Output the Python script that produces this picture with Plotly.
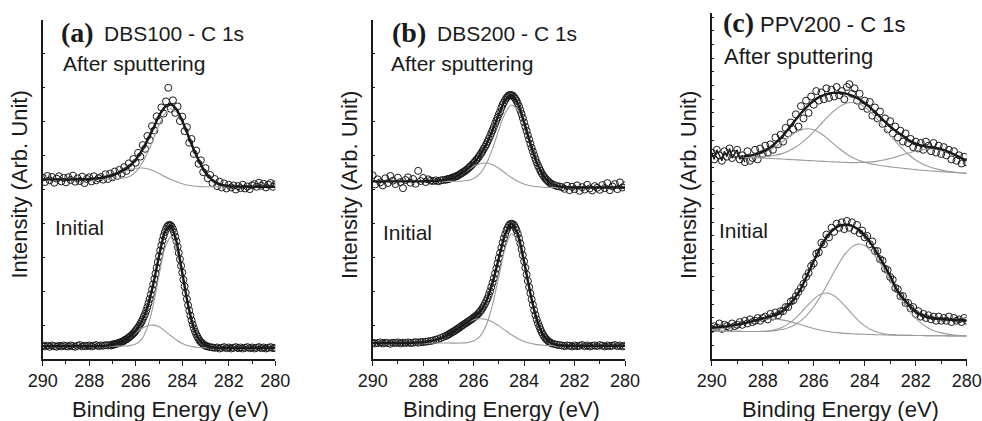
import numpy as np
import plotly.graph_objects as go

W, H = 982, 421

# ---------------- energy grids (eV) ----------------
E_FINE = np.round(np.linspace(290.0, 280.0, 101), 2)
E_DENSE = np.round(np.concatenate([np.linspace(290.0, 287.2, 29),
                                   np.linspace(287.1, 282.9, 85),
                                   np.linspace(282.8, 280.0, 29)]), 2)
E_FIT = np.round(np.linspace(290.0, 280.0, 41), 2)
E_FIT_C_AFTER = np.round(np.linspace(288.75, 280.0, 36), 2)

# ---------------- panel (a) DBS100 ----------------
a_after_pts = [5.35, 5.22, 5.40, 5.27, 5.37, 5.20, 5.32, 5.39, 5.24, 5.34,
               5.21, 5.36, 5.28, 5.41, 5.23, 5.33, 5.25, 5.38, 5.19, 5.31,
               5.36, 5.24, 5.39, 5.27, 5.33, 5.37,
               5.29, 5.45, 5.31, 5.47, 5.36, 5.53, 5.40, 5.58, 5.47, 5.66,
               5.55, 5.77, 5.65, 5.90, 5.79, 6.08, 5.97, 6.31, 6.20, 6.58,
               6.46, 6.87, 6.74, 7.16, 7.03, 7.42, 7.24, 7.60, 8.00, 7.38,
               7.63, 7.26, 7.45, 7.02, 7.15, 6.72, 6.84, 6.38, 6.49, 6.05,
               6.15, 5.76, 5.86, 5.51, 5.63, 5.33, 5.43, 5.19, 5.31, 5.10,
               5.23, 5.06, 5.18, 5.03, 5.14,
               5.06, 5.12, 5.00, 5.10, 5.04, 5.14, 5.03, 5.09, 5.01, 5.12,
               5.16, 5.08, 5.20, 5.11, 5.17, 5.06, 5.14, 5.19, 5.08, 5.15]
a_after_fit = [5.30, 5.30, 5.30, 5.30, 5.30, 5.30, 5.302, 5.304, 5.31, 5.321,
               5.341, 5.375, 5.42, 5.49, 5.58, 5.70, 5.88, 6.13, 6.45, 6.80,
               7.17, 7.43, 7.52, 7.37, 7.03, 6.60, 6.17, 5.80, 5.50, 5.30,
               5.19, 5.13, 5.10, 5.09, 5.085, 5.08, 5.08, 5.08, 5.08, 5.08, 5.08]
a_after_main = [5.30, 5.30, 5.30, 5.30, 5.30, 5.30, 5.30, 5.30, 5.30, 5.30,
                5.30, 5.30, 5.30, 5.31, 5.34, 5.39, 5.52, 5.75, 6.08, 6.47,
                6.90, 7.23, 7.38, 7.28, 6.98, 6.57, 6.16, 5.79, 5.50, 5.30,
                5.19, 5.13, 5.10, 5.09, 5.085, 5.08, 5.08, 5.08, 5.08, 5.08, 5.08]
a_after_minor = [5.30, 5.30, 5.30, 5.30, 5.30, 5.30, 5.302, 5.304, 5.31, 5.321,
                 5.34, 5.372, 5.418, 5.477, 5.534, 5.588, 5.627, 5.634, 5.61, 5.55,
                 5.471, 5.383, 5.30, 5.229, 5.171, 5.127, 5.103, 5.086, 5.082, 5.08,
                 5.08, 5.08, 5.08, 5.08, 5.08, 5.08, 5.08, 5.08, 5.08, 5.08, 5.08]

a_init_pts = [0.40, 0.37, 0.39, 0.36, 0.40, 0.38, 0.36, 0.39, 0.37, 0.40,
              0.38, 0.37, 0.40, 0.38, 0.36, 0.39, 0.41, 0.37, 0.39, 0.38,
              0.40, 0.37, 0.39, 0.41, 0.38, 0.40, 0.39, 0.41, 0.40,
              0.41, 0.40, 0.43, 0.42, 0.44, 0.45, 0.45, 0.47, 0.48, 0.49,
              0.51, 0.52, 0.54, 0.57, 0.58, 0.61, 0.63, 0.66, 0.69, 0.72,
              0.76, 0.79, 0.84, 0.88, 0.93, 0.98, 1.04, 1.10, 1.17, 1.25,
              1.33, 1.43, 1.53, 1.65, 1.77, 1.90, 2.05, 2.20, 2.36, 2.52,
              2.69, 2.86, 3.03, 3.20, 3.35, 3.50, 3.63, 3.74, 3.83, 3.90,
              3.94, 3.96, 3.94, 3.90, 3.83, 3.73, 3.61, 3.47, 3.31, 3.13,
              2.94, 2.75, 2.55, 2.34, 2.14, 1.95, 1.77, 1.59, 1.43, 1.28,
              1.14, 1.02, 0.91, 0.81, 0.73, 0.66, 0.60, 0.54, 0.50, 0.47,
              0.44, 0.41, 0.39, 0.38, 0.37,
              0.35, 0.34, 0.33, 0.34, 0.31, 0.33, 0.35, 0.32, 0.34, 0.31,
              0.33, 0.35, 0.32, 0.34, 0.31, 0.33, 0.35, 0.32, 0.34, 0.31,
              0.33, 0.35, 0.32, 0.34, 0.31, 0.33, 0.35, 0.32, 0.33]
a_init_fit = [0.38, 0.38, 0.38, 0.38, 0.38, 0.38, 0.38, 0.38, 0.381, 0.382,
              0.386, 0.396, 0.419, 0.464, 0.541, 0.659, 0.834, 1.10, 1.532, 2.198,
              3.034, 3.74, 3.941, 3.468, 2.546, 1.591, 0.909, 0.544, 0.394, 0.346,
              0.333, 0.33, 0.33, 0.33, 0.33, 0.33, 0.33, 0.33, 0.33, 0.33, 0.33]
a_init_main = [0.38, 0.38, 0.38, 0.38, 0.38, 0.38, 0.38, 0.38, 0.38, 0.38,
               0.38, 0.38, 0.38, 0.38, 0.383, 0.394, 0.44, 0.581, 0.926, 1.57,
               2.456, 3.269, 3.60, 3.249, 2.421, 1.528, 0.881, 0.533, 0.39, 0.344,
               0.333, 0.33, 0.33, 0.33, 0.33, 0.33, 0.33, 0.33, 0.33, 0.33, 0.33]
a_init_minor = [0.38, 0.38, 0.38, 0.38, 0.38, 0.38, 0.38, 0.38, 0.38, 0.382,
                0.386, 0.396, 0.419, 0.464, 0.538, 0.645, 0.774, 0.897, 0.981, 1.0,
                0.948, 0.831, 0.691, 0.559, 0.46, 0.393, 0.358, 0.341, 0.334, 0.332,
                0.33, 0.33, 0.33, 0.33, 0.33, 0.33, 0.33, 0.33, 0.33, 0.33, 0.33]

# ---------------- panel (b) DBS200 ----------------
b_after_pts = [5.42, 5.15, 5.30, 5.21, 5.12, 5.33, 5.19, 5.40, 5.26, 5.16,
               5.35, 5.22, 5.04, 5.28, 5.36, 5.20, 5.31, 5.17, 5.55, 5.25,
               5.34, 5.22, 5.30, 5.26, 5.25, 5.27, 5.24, 5.27, 5.28,
               5.29, 5.30, 5.31, 5.32, 5.33, 5.34, 5.36, 5.37, 5.39, 5.40,
               5.42, 5.45, 5.47, 5.49, 5.52, 5.54, 5.57, 5.60, 5.63, 5.67,
               5.70, 5.74, 5.78, 5.82, 5.87, 5.91, 5.96, 6.02, 6.07, 6.13,
               6.20, 6.26, 6.33, 6.41, 6.49, 6.57, 6.66, 6.75, 6.84, 6.94,
               7.03, 7.12, 7.22, 7.30, 7.41, 7.50, 7.57, 7.64, 7.70, 7.74,
               7.78, 7.79, 7.78, 7.77, 7.73, 7.68, 7.62, 7.54, 7.45, 7.34,
               7.23, 7.11, 6.98, 6.85, 6.73, 6.60, 6.48, 6.35, 6.23, 6.12,
               6.01, 5.90, 5.80, 5.71, 5.63, 5.55, 5.48, 5.42, 5.37, 5.32,
               5.28, 5.24, 5.21, 5.18, 5.16,
               5.13, 5.10, 5.09, 5.07, 5.02, 5.11, 4.98, 5.08, 5.01, 5.12,
               4.96, 5.07, 5.00, 5.14, 5.03, 4.97, 5.10, 5.05, 4.99, 5.13,
               5.04, 5.19, 4.98, 5.09, 5.16, 5.01, 5.21, 5.06, 5.12]
b_after_fit = [5.24, 5.24, 5.24, 5.24, 5.24, 5.24, 5.24, 5.24, 5.241, 5.245,
               5.252, 5.271, 5.307, 5.369, 5.466, 5.601, 5.782, 6.016, 6.334, 6.75,
               7.217, 7.64, 7.78, 7.54, 6.977, 6.353, 5.803, 5.42, 5.21, 5.112,
               5.076, 5.064, 5.061, 5.06, 5.06, 5.06, 5.06, 5.06, 5.06, 5.06, 5.06]
b_after_main = [5.24, 5.24, 5.24, 5.24, 5.24, 5.24, 5.24, 5.24, 5.24, 5.24,
                5.24, 5.24, 5.24, 5.242, 5.244, 5.263, 5.325, 5.47, 5.754, 6.204,
                6.76, 7.255, 7.492, 7.358, 6.91, 6.322, 5.791, 5.415, 5.208, 5.112,
                5.076, 5.064, 5.06, 5.06, 5.06, 5.06, 5.06, 5.06, 5.06, 5.06, 5.06]
b_after_minor = [5.24, 5.24, 5.24, 5.24, 5.24, 5.24, 5.24, 5.24, 5.241, 5.245,
                 5.252, 5.271, 5.307, 5.37, 5.457, 5.568, 5.681, 5.761, 5.78, 5.731,
                 5.626, 5.488, 5.352, 5.24, 5.162, 5.111, 5.082, 5.065, 5.061, 5.06,
                 5.06, 5.06, 5.06, 5.06, 5.06, 5.06, 5.06, 5.06, 5.06, 5.06, 5.06]

b_init_pts = [0.48, 0.46, 0.47, 0.49, 0.46, 0.48, 0.47, 0.45, 0.48, 0.47,
              0.49, 0.46, 0.48, 0.47, 0.49, 0.47, 0.48, 0.50, 0.48, 0.50,
              0.50, 0.51, 0.52, 0.53, 0.55, 0.57, 0.59, 0.62, 0.65,
              0.68, 0.70, 0.72, 0.74, 0.77, 0.79, 0.81, 0.83, 0.86, 0.88,
              0.91, 0.93, 0.96, 0.99, 1.01, 1.04, 1.06, 1.09, 1.11, 1.14,
              1.16, 1.19, 1.22, 1.25, 1.28, 1.31, 1.35, 1.40, 1.44, 1.50,
              1.56, 1.63, 1.71, 1.79, 1.89, 2.00, 2.12, 2.25, 2.38, 2.52,
              2.67, 2.82, 2.98, 3.13, 3.28, 3.43, 3.56, 3.68, 3.79, 3.87,
              3.94, 3.98, 3.99, 3.98, 3.95, 3.88, 3.80, 3.69, 3.56, 3.41,
              3.24, 3.06, 2.88, 2.69, 2.49, 2.30, 2.12, 1.94, 1.76, 1.60,
              1.44, 1.30, 1.17, 1.06, 0.96, 0.87, 0.79, 0.72, 0.66, 0.61,
              0.57, 0.53, 0.50, 0.48, 0.46,
              0.44, 0.42, 0.41, 0.40, 0.38, 0.40, 0.39, 0.37, 0.40, 0.38,
              0.39, 0.41, 0.38, 0.40, 0.37, 0.39, 0.40, 0.38, 0.41, 0.39,
              0.37, 0.40, 0.38, 0.39, 0.41, 0.38, 0.40, 0.37, 0.39]
b_init_fit = [0.47, 0.47, 0.47, 0.47, 0.471, 0.472, 0.475, 0.482, 0.496, 0.522,
              0.565, 0.631, 0.722, 0.834, 0.959, 1.087, 1.219, 1.395, 1.706, 2.245,
              2.977, 3.683, 3.992, 3.686, 2.879, 1.935, 1.174, 0.717, 0.501, 0.422,
              0.398, 0.391, 0.39, 0.39, 0.39, 0.39, 0.39, 0.39, 0.39, 0.39, 0.39]
b_init_main = [0.47, 0.47, 0.47, 0.47, 0.47, 0.47, 0.47, 0.47, 0.47, 0.47,
               0.47, 0.47, 0.47, 0.469, 0.471, 0.483, 0.529, 0.666, 0.994, 1.602,
               2.441, 3.269, 3.697, 3.491, 2.76, 1.868, 1.139, 0.70, 0.494, 0.419,
               0.397, 0.391, 0.39, 0.39, 0.39, 0.39, 0.39, 0.39, 0.39, 0.39, 0.39]
b_init_minor = [0.47, 0.47, 0.47, 0.47, 0.471, 0.472, 0.475, 0.482, 0.496, 0.522,
                0.565, 0.631, 0.722, 0.834, 0.956, 1.071, 1.155, 1.189, 1.167, 1.093,
                0.976, 0.844, 0.715, 0.605, 0.519, 0.462, 0.425, 0.407, 0.397, 0.393,
                0.391, 0.39, 0.39, 0.39, 0.39, 0.39, 0.39, 0.39, 0.39, 0.39, 0.39]

# ---------------- panel (c) PPV200 ----------------
c_after_pts = [15.1, 14.6, 15.3, 14.9, 14.5, 15.2, 14.8, 15.4, 14.7, 15.0,
               15.3, 14.6, 14.9, 14.4, 15.2, 14.5, 14.7, 15.3, 14.6, 15.4,
               15.0, 15.6, 15.1, 15.7, 15.3, 16.2, 15.7, 16.4, 15.9, 16.9,
               16.5, 17.3, 16.8, 17.9, 17.0, 18.5, 17.6, 18.9, 18.0, 19.2,
               18.6, 19.6, 18.9, 19.5, 19.0, 19.8, 19.1, 19.7, 19.2, 19.9,
               19.3, 19.6, 19.0, 19.9, 20.1, 19.4, 19.8, 18.9, 19.4, 18.5,
               18.9, 18.3, 18.8, 17.8, 18.4, 17.6, 18.1, 17.2, 17.6, 16.8,
               17.4, 16.5, 17.0, 16.2, 16.7, 15.9, 16.5, 15.8, 16.1, 15.5,
               15.9, 15.4, 15.8, 15.3, 15.9, 15.6, 15.2, 15.8, 15.1, 15.6,
               15.0, 15.5, 14.9, 15.3, 14.6, 15.2, 14.5, 14.9, 14.3, 14.8,
               14.4]
c_after_fit = [14.831, 14.881, 14.981, 15.155, 15.417, 15.785, 16.257, 16.81, 17.40, 17.975,
               18.486, 18.895, 19.188, 19.372, 19.464, 19.478, 19.416, 19.265, 19.039, 18.73,
               18.331, 17.888, 17.435, 17.007, 16.634, 16.328, 15.98, 15.75, 15.60, 15.52,
               15.45, 15.35, 15.18, 14.97, 14.74, 14.51]
c_after_comp1 = [14.816, 14.852, 14.929, 15.063, 15.261, 15.531, 15.859, 16.208, 16.526, 16.753,
                 16.842, 16.767, 16.536, 16.192, 15.793, 15.397, 15.046, 14.753, 14.543, 14.395,
                 14.274, 14.186, 14.116, 14.057, 14.003, 13.951, 13.90, 13.85, 13.81, 13.775,
                 13.74, 13.70, 13.67, 13.64, 13.61, 13.58]
c_after_comp2 = [14.775, 14.769, 14.772, 14.792, 14.831, 14.904, 15.023, 15.202, 15.449, 15.772,
                 16.169, 16.627, 17.12, 17.615, 18.072, 18.443, 18.688, 18.767, 18.685, 18.44,
                 18.036, 17.528, 16.962, 16.383, 15.831, 15.332, 14.904, 14.552, 14.282, 14.081,
                 13.93, 13.814, 13.736, 13.676, 13.629, 13.59]
c_after_comp3 = [14.76, 14.74, 14.72, 14.70, 14.675, 14.65, 14.625, 14.60, 14.575, 14.55,
                 14.525, 14.501, 14.472, 14.445, 14.419, 14.398, 14.382, 14.365, 14.371, 14.395,
                 14.421, 14.474, 14.557, 14.667, 14.80, 14.945, 15.088, 15.211, 15.307, 15.354,
                 15.339, 15.253, 15.118, 14.936, 14.722, 14.497]

c_init_pts = [2.2, 2.4, 2.3, 2.6, 2.2, 2.5, 2.4, 2.3, 2.6, 2.4,
              2.5, 2.7, 2.5, 2.8, 2.6, 2.9, 2.7, 2.8, 3.0, 2.8,
              3.0, 3.1, 2.9, 3.3, 3.1, 3.4, 3.2, 3.5, 3.5, 3.8,
              3.8, 4.2, 4.3, 4.6, 4.9, 5.2, 5.5, 6.0, 6.3, 6.8,
              7.0, 7.7, 7.8, 8.5, 8.4, 9.1, 8.9, 9.6, 9.3, 9.9,
              9.6, 10.0, 9.5, 10.1, 9.6, 10.0, 9.4, 9.8, 9.2, 9.4,
              8.9, 9.0, 8.4, 8.6, 7.9, 7.9, 7.3, 7.2, 6.6, 6.5,
              6.0, 5.8, 5.2, 5.1, 4.6, 4.6, 4.1, 4.1, 3.7, 3.8,
              3.3, 3.5, 3.1, 3.3, 3.0, 3.2, 2.9, 3.1, 2.8, 3.1,
              2.8, 3.0, 2.8, 3.1, 2.7, 3.0, 2.8, 2.9, 2.7, 3.0,
              2.8]
c_init_fit = [2.30, 2.33, 2.37, 2.43, 2.51, 2.61, 2.72, 2.84, 2.96, 3.08,
              3.23, 3.48, 3.90, 4.45, 5.15, 6.15, 7.15, 8.10, 8.90, 9.45,
              9.74, 9.82, 9.74, 9.47, 9.03, 8.42, 7.70, 6.90, 6.08, 5.10,
              4.45, 3.92, 3.45, 3.20, 3.05, 2.96, 2.93, 2.89, 2.86, 2.84, 2.82]
c_init_comp_hi = [2.139, 2.185, 2.251, 2.339, 2.445, 2.564, 2.686, 2.797, 2.88, 2.921,
                  2.916, 2.864, 2.77, 2.644, 2.503, 2.362, 2.232, 2.121, 2.031, 1.961,
                  1.909, 1.872, 1.843, 1.822, 1.805, 1.79, 1.776, 1.762, 1.75, 1.742,
                  1.735, 1.728, 1.72, 1.715, 1.71, 1.705, 1.70, 1.695, 1.69, 1.685, 1.68]
c_init_comp_mid = [2.05, 2.042, 2.035, 2.028, 2.021, 2.014, 2.011, 2.014, 2.029, 2.068,
                   2.154, 2.313, 2.57, 2.937, 3.40, 3.909, 4.381, 4.713, 4.825, 4.687,
                   4.331, 3.835, 3.30, 2.811, 2.42, 2.141, 1.959, 1.85, 1.789, 1.758,
                   1.741, 1.73, 1.721, 1.715, 1.71, 1.705, 1.70, 1.695, 1.69, 1.685, 1.68]
c_init_comp_main = [2.05, 2.042, 2.036, 2.029, 2.021, 2.015, 2.011, 2.011, 2.017, 2.035,
                    2.075, 2.152, 2.285, 2.494, 2.807, 3.247, 3.825, 4.535, 5.345, 6.202,
                    7.024, 7.721, 8.203, 8.406, 8.30, 7.899, 7.30, 6.60, 5.77, 4.96,
                    4.18, 3.53, 2.97, 2.57, 2.25, 2.05, 1.91, 1.82, 1.76, 1.72, 1.69]

# ---------------- figure ----------------
FONT = "Liberation Sans, Arial, Helvetica, sans-serif"
SERIF = "Liberation Serif, Times New Roman, serif"
INK = "#1a1a1a"
GRAY = "#9a9a9a"

fig = go.Figure()


def pts(x, y, ax):
    fig.add_trace(go.Scatter(x=x, y=y, mode="markers", xaxis="x" + ax, yaxis="y" + ax,
                             marker=dict(symbol="circle-open", size=7, color=INK,
                                         line=dict(width=1, color=INK)),
                             hoverinfo="skip", showlegend=False))


def curve(x, y, ax, color, width):
    fig.add_trace(go.Scatter(x=x, y=y, mode="lines", xaxis="x" + ax, yaxis="y" + ax,
                             line=dict(color=color, width=width, shape="spline", smoothing=0.6),
                             hoverinfo="skip", showlegend=False))


# panel a
pts(E_FINE, a_after_pts, "")
pts(E_DENSE, a_init_pts, "")
for comp in (a_after_main, a_after_minor, a_init_main, a_init_minor):
    curve(E_FIT, comp, "", GRAY, 1.1)
curve(E_FIT, a_after_fit, "", INK, 2.4)
curve(E_FIT, a_init_fit, "", INK, 2.4)

# panel b
pts(E_DENSE, b_after_pts, "2")
pts(E_DENSE, b_init_pts, "2")
for comp in (b_after_main, b_after_minor, b_init_main, b_init_minor):
    curve(E_FIT, comp, "2", GRAY, 1.1)
curve(E_FIT, b_after_fit, "2", INK, 2.4)
curve(E_FIT, b_init_fit, "2", INK, 2.4)

# panel c
pts(E_FINE, c_after_pts, "3")
pts(E_FINE, c_init_pts, "3")
fig.add_trace(go.Scatter(x=E_FINE[:14], y=c_after_pts[:14], mode="lines", xaxis="x3", yaxis="y3",
                         line=dict(color=INK, width=1.3), hoverinfo="skip", showlegend=False))
for comp in (c_after_comp1, c_after_comp2, c_after_comp3):
    curve(E_FIT_C_AFTER, comp, "3", GRAY, 1.1)
for comp in (c_init_comp_hi, c_init_comp_mid, c_init_comp_main):
    curve(E_FIT, comp, "3", GRAY, 1.1)
curve(E_FIT_C_AFTER, c_after_fit, "3", INK, 2.4)
curve(E_FIT, c_init_fit, "3", INK, 2.4)


def fx(px):
    return px / W


def fy(py):
    return (H - py) / H


xcommon = dict(range=[290, 280], autorange=False, tickmode="linear", tick0=280, dtick=2,
               ticks="outside", ticklen=5, tickwidth=1.2, tickcolor=INK,
               showline=True, linecolor=INK, linewidth=1.5, showgrid=False, zeroline=False,
               tickfont=dict(family=FONT, size=18, color=INK), automargin=False,
               minor=dict(tick0=280, dtick=1, ticks="outside", ticklen=3, tickwidth=1.2,
                          tickcolor=INK, showgrid=False),
               fixedrange=True)
ycommon = dict(showticklabels=False, tickmode="linear", tick0=0, dtick=1, ticks="inside",
               ticklen=3, tickwidth=1.2, tickcolor=INK, showline=True, linecolor=INK,
               linewidth=1.5, showgrid=False, zeroline=False, fixedrange=True, automargin=False)

fig.update_layout(
    width=W, height=H, autosize=False,
    margin=dict(l=0, r=0, t=0, b=0, pad=0, autoexpand=False),
    paper_bgcolor="white", plot_bgcolor="white", showlegend=False,
    xaxis=dict(domain=[fx(42.7), fx(275.3)], anchor="y", **xcommon),
    yaxis=dict(domain=[fy(359), fy(20)], anchor="x", range=[0, 10], **ycommon),
    xaxis2=dict(domain=[fx(372.7), fx(625.0)], anchor="y2", **xcommon),
    yaxis2=dict(domain=[fy(359), fy(20)], anchor="x2", range=[0, 10], **ycommon),
    xaxis3=dict(domain=[fx(711.7), fx(966.7)], anchor="y3", **xcommon),
    yaxis3=dict(domain=[fy(359), fy(13)], anchor="x3", range=[0, 25.31], **ycommon),
)

ann = []


def text(s, x, y, size, family=FONT, xanchor="left", angle=0):
    ann.append(dict(text=s, x=fx(x), y=fy(y), xref="paper", yref="paper", showarrow=False,
                    xanchor=xanchor, yanchor="middle", textangle=angle,
                    font=dict(family=family, size=size, color=INK)))


# panel titles
text("<b>(a)</b>", 59, 32, 28, SERIF)
text("DBS100 - C 1s", 102, 33, 21)
text("<b>(b)</b>", 390, 32, 28, SERIF)
text("DBS200 - C 1s", 435, 33, 21)
text("<b>(c)</b>", 721, 23, 28, SERIF)
text("PPV200 - C 1s", 758, 24.5, 22)
# state labels
text("After sputtering", 61, 64, 21)
text("After sputtering", 389, 64, 21)
text("After sputtering", 722, 56, 22)
text("Initial", 53, 227.5, 21)
text("Initial", 381, 232, 21)
text("Initial", 717, 230, 21)
# axis titles
for cx in (170, 501, 840):
    text("Binding Energy (eV)", cx, 409, 22, xanchor="center")
for cx in (18.5, 349, 688):
    text("Intensity (Arb. Unit)", cx, 185, 22, xanchor="center", angle=-90)

fig.update_layout(annotations=ann)
fig.write_html("out.html", config={"displayModeBar": False},
               post_script="document.body.style.margin='0px';"
                           "document.body.style.padding='0px';"
                           "document.documentElement.style.overflow='hidden';")
